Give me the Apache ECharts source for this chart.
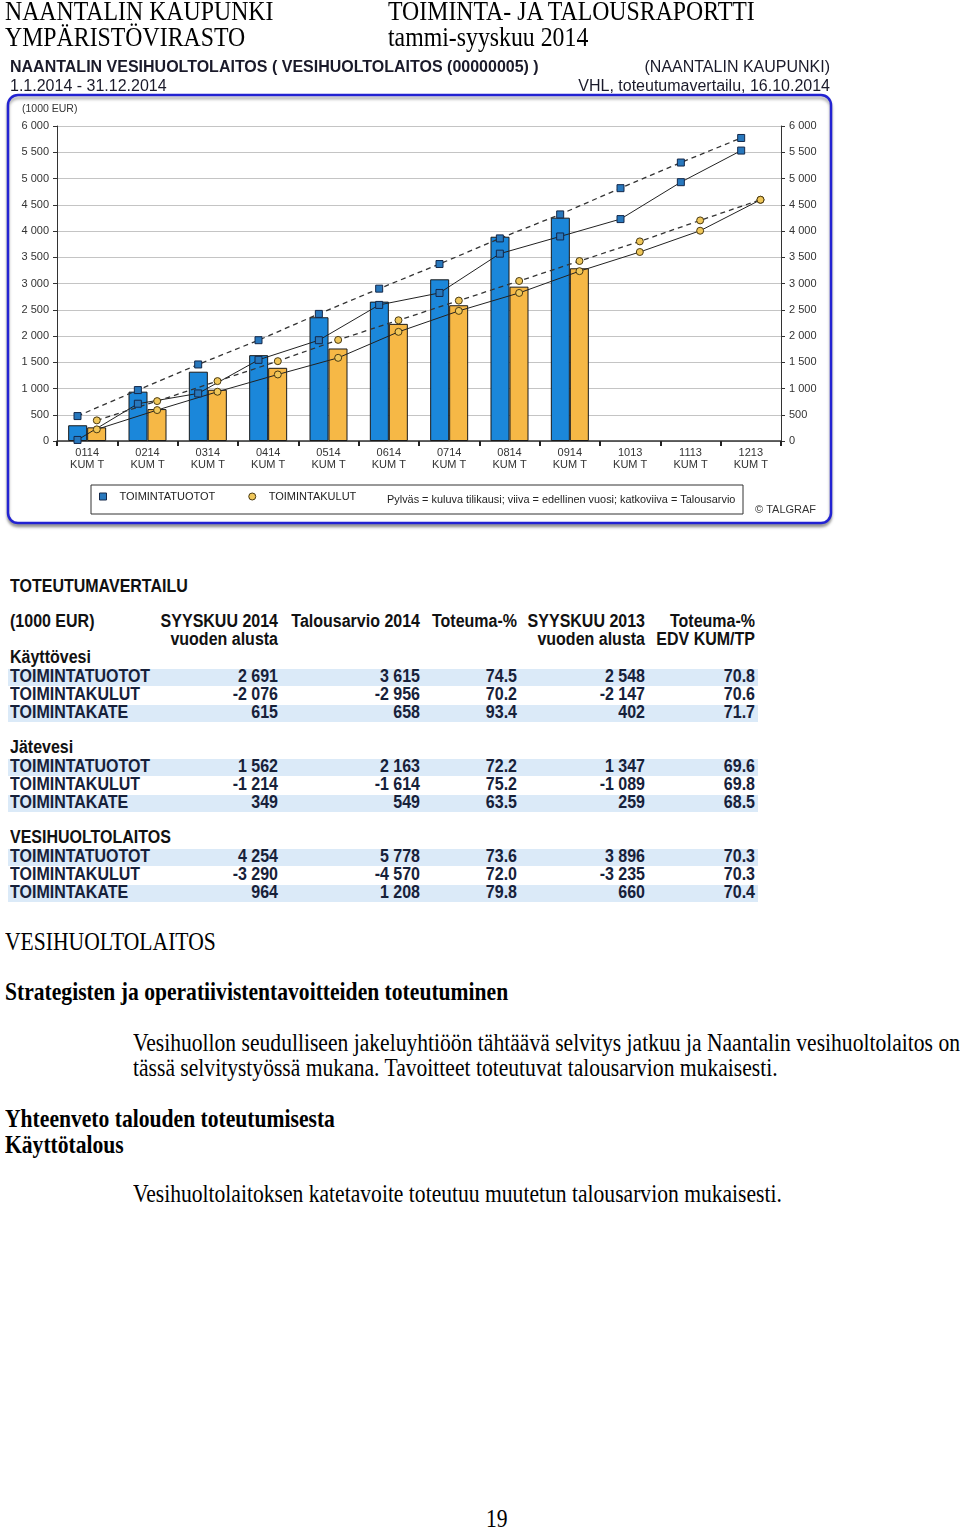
<!DOCTYPE html>
<html><head><meta charset="utf-8">
<script src="https://cdn.jsdelivr.net/npm/echarts@6/dist/echarts.min.js"></script>
<style>
html,body{margin:0;padding:0;background:#fff;}
#page{position:relative;width:960px;height:1527px;overflow:hidden;background:#fff;}
.t{position:absolute;white-space:nowrap;font-family:'Liberation Serif','Times New Roman',serif;color:#000;line-height:1;transform:scaleY(1.12);transform-origin:0 50%;}
.b{font-weight:bold;}
#chart{position:absolute;left:0;top:0;width:960px;height:540px;}
.tb{position:absolute;white-space:nowrap;font-family:'Liberation Sans',Arial,sans-serif;font-weight:bold;font-size:16px;line-height:18px;height:18px;color:#17213a;transform:scaleY(1.1);transform-origin:0 50%;}
.band{position:absolute;left:8px;width:750px;height:17px;background:#dbeaf8;}
</style></head>
<body><div id="page"><div id="chart"></div></div>
<script>
// ---------- chart data ----------
const categories = ['0114','0214','0314','0414','0514','0614','0714','0814','0914','1013','1113','1213'];
const tuotot2014 = [300, 940, 1320, 1635, 2357, 2655, 3080, 3891, 4254];
const kulut2014 = [260, 608, 976, 1394, 1762, 2231, 2586, 2940, 3290];
const tuotot2013 = [20, 710, 906, 1546, 1920, 2592, 2820, 3568, 3896, 4227, 4930, 5532];
const kulut2013 = [222, 589, 938, 1267, 1584, 2079, 2478, 2820, 3235, 3600, 4005, 4594];
const tuototBudget = [475, 970, 1458, 1920, 2421, 2902, 3371, 3859, 4316, 4816, 5304, 5772];
const kulutBudget = [393, 760, 1141, 1521, 1926, 2300, 2674, 3048, 3428, 3802, 4202, 4595];
const yTicks = {min: 0, max: 6000, interval: 500};

// ---------- table data ----------
const tableTitle = 'TOTEUTUMAVERTAILU';
const unitLabel = '(1000 EUR)';
const colHeads1 = ['SYYSKUU 2014','Talousarvio 2014','Toteuma-%','SYYSKUU 2013','Toteuma-%'];
const colHeads2 = ['vuoden alusta','','','vuoden alusta','EDV KUM/TP'];
const sections = ['Käyttövesi','Jätevesi','VESIHUOLTOLAITOS'];
const rowLabels = ['TOIMINTATUOTOT','TOIMINTAKULUT','TOIMINTAKATE'];
const kayttovesiVals = [['2 691','3 615','74.5','2 548','70.8'],['-2 076','-2 956','70.2','-2 147','70.6'],['615','658','93.4','402','71.7']];
const jatevesiVals = [['1 562','2 163','72.2','1 347','69.6'],['-1 214','-1 614','75.2','-1 089','69.8'],['349','549','63.5','259','68.5']];
const vesihuoltoVals = [['4 254','5 778','73.6','3 896','70.3'],['-3 290','-4 570','72.0','-3 235','70.3'],['964','1 208','79.8','660','70.4']];

// ---------- page texts ----------
const pageTexts = [
  {s:'NAANTALIN KAUPUNKI', x:5, y:11.5, fs:23.8},
  {s:'YMPÄRISTÖVIRASTO', x:5, y:37.5, fs:23.8},
  {s:'TOIMINTA- JA TALOUSRAPORTTI', x:388, y:11.5, fs:23.8},
  {s:'tammi-syyskuu 2014', x:388, y:37.5, fs:23.8},
  {s:'VESIHUOLTOLAITOS', x:5, y:942.5, fs:21.6},
  {s:'Strategisten ja operatiivistentavoitteiden toteutuminen', x:5, y:992.5, fs:21.6, b:1},
  {s:'Vesihuollon seudulliseen jakeluyhtiöön tähtäävä selvitys jatkuu ja Naantalin vesihuoltolaitos on', x:133, y:1043.5, fs:21.6},
  {s:'tässä selvitystyössä mukana. Tavoitteet toteutuvat talousarvion mukaisesti.', x:133, y:1068.5, fs:21.6},
  {s:'Yhteenveto talouden toteutumisesta', x:5, y:1119.5, fs:21.6, b:1},
  {s:'Käyttötalous', x:5, y:1145.5, fs:21.6, b:1},
  {s:'Vesihuoltolaitoksen katetavoite toteutuu muutetun talousarvion mukaisesti.', x:133, y:1194.5, fs:21.6},
  {s:'19', x:486, y:1519.5, fs:21.6}
];

const page = document.getElementById('page');
pageTexts.forEach(p => {
  const d = document.createElement('div');
  d.className = 't' + (p.b ? ' b' : '');
  d.textContent = p.s;
  d.style.left = p.x + 'px';
  d.style.top = (p.y - p.fs/2) + 'px';
  d.style.fontSize = p.fs + 'px';
  page.appendChild(d);
});

// ---------- table ----------
const colRight = [278, 420, 517, 645, 755];
function tText(s, x, yc, alignRight, extra) {
  const d = document.createElement('div');
  d.className = 'tb';
  d.textContent = s;
  d.style.top = (yc - 9) + 'px';
  if (alignRight) { d.style.right = (960 - x) + 'px'; d.style.transformOrigin = '100% 50%'; }
  else d.style.left = x + 'px';
  if (extra) Object.assign(d.style, extra);
  page.appendChild(d);
}
function band(yc) {
  const d = document.createElement('div');
  d.className = 'band';
  d.style.top = (yc - 8.5) + 'px';
  page.appendChild(d);
}
tText(tableTitle, 10, 587, false, {color:'#111'});
tText(unitLabel, 10, 622, false, {color:'#111'});
colHeads1.forEach((h,i) => tText(h, colRight[i], 622, true, {color:'#111'}));
colHeads2.forEach((h,i) => { if (h) tText(h, colRight[i], 640, true, {color:'#111'}); });
const sectionVals = [kayttovesiVals, jatevesiVals, vesihuoltoVals];
sections.forEach((sec, s) => {
  const y0 = 658 + s*90;
  const rowsY = [y0+19, y0+37, y0+55];
  band(rowsY[0]); band(rowsY[2]);
  tText(sec, 10, y0, false, {color:'#111'});
  rowLabels.forEach((lab, r) => {
    tText(lab, 10, rowsY[r], false);
    sectionVals[s][r].forEach((v, c) => tText(v, colRight[c], rowsY[r], true));
  });
});

// ---------- chart ----------
const fmt = v => String(v).replace(/\B(?=(\d{3})+(?!\d))/g, ' ');
const off = 0.16;
const FONT = 'Liberation Sans, Arial, sans-serif';
const blueFill = '#1b87da', orangeFill = '#f6b846';
const sqStyle = {color:'#2878bd', borderColor:'#14284a', borderWidth:1};
const ciStyle = {color:'#f0c75a', borderColor:'#4a3a12', borderWidth:1};

const chart = echarts.init(document.getElementById('chart'), null, {renderer:'canvas'});
chart.setOption({
  animation: false,
  textStyle: {fontFamily: FONT},
  grid: {left: 57, right: 179, top: 126, bottom: 99, containLabel: false},
  xAxis: [
    {type:'category', data: categories, boundaryGap: true,
     axisLine: {lineStyle: {color:'#333', width: 1.5}},
     axisTick: {show: true, length: 5, lineStyle: {color:'#222', width: 2}},
     axisLabel: {fontSize: 11, color:'#333', margin: 6, lineHeight: 12, formatter: v => v + '\nKUM T'},
     splitLine: {show: false}},
    {type:'value', min: -0.5, max: categories.length - 0.5, show: false}
  ],
  yAxis: [
    {type:'value', position:'left', min: yTicks.min, max: yTicks.max, interval: yTicks.interval,
     axisLine: {show: true, onZero: false, lineStyle: {color:'#333', width: 1}},
     axisTick: {show: true, length: 4, lineStyle: {color:'#333'}},
     axisLabel: {fontSize: 11, color:'#333', margin: 8, formatter: fmt},
     splitLine: {show: true, lineStyle: {color:'#c4c4c4', width: 1.2}}},
    {type:'value', position:'right', min: yTicks.min, max: yTicks.max, interval: yTicks.interval,
     axisLine: {show: true, onZero: false, lineStyle: {color:'#333', width: 1}},
     axisTick: {show: true, length: 4, lineStyle: {color:'#333'}},
     axisLabel: {fontSize: 11, color:'#333', margin: 8, formatter: fmt},
     splitLine: {show: false}}
  ],
  legend: {
    left: 99, top: 491, itemWidth: 7, itemHeight: 7, itemGap: 33, padding: 0,
    textStyle: {fontSize: 11, color:'#222', padding: [0,0,0,8]},
    data: [
      {name:'TOIMINTATUOTOT', icon:'rect', itemStyle: sqStyle},
      {name:'TOIMINTAKULUT', icon:'circle', itemStyle: ciStyle}
    ],
    selectedMode: false
  },
  graphic: [
    {type:'rect', z:-100, silent:true, shape:{x:8, y:95, width:823, height:428, r:10},
     style:{fill:'#fff', stroke:'#2323d2', lineWidth:2.5, shadowBlur:3, shadowOffsetY:3, shadowColor:'rgba(0,0,0,0.35)'}},
    {type:'rect', z:-50, silent:true, shape:{x:91, y:485, width:652, height:29},
     style:{fill:'#fff', stroke:'#333', lineWidth:1}},
    {type:'text', silent:true, x:10, y:68, style:{text:'NAANTALIN VESIHUOLTOLAITOS ( VESIHUOLTOLAITOS (00000005) )', font:'bold 16px ' + FONT, fill:'#1a1a2a', verticalAlign:'middle'}},
    {type:'text', silent:true, x:830, y:68, style:{text:'(NAANTALIN KAUPUNKI)', font:'16px ' + FONT, fill:'#1a1a2a', align:'right', verticalAlign:'middle'}},
    {type:'text', silent:true, x:10, y:87, style:{text:'1.1.2014 - 31.12.2014', font:'16px ' + FONT, fill:'#1a1a2a', verticalAlign:'middle'}},
    {type:'text', silent:true, x:830, y:87, style:{text:'VHL, toteutumavertailu, 16.10.2014', font:'16px ' + FONT, fill:'#1a1a2a', align:'right', verticalAlign:'middle'}},
    {type:'text', silent:true, x:22, y:109, style:{text:'(1000 EUR)', font:'10.5px ' + FONT, fill:'#333', verticalAlign:'middle'}},
    {type:'text', silent:true, x:387, y:500, style:{text:'Pylväs = kuluva tilikausi; viiva = edellinen vuosi; katkoviiva = Talousarvio', font:'10.9px ' + FONT, fill:'#222', verticalAlign:'middle'}},
    {type:'text', silent:true, x:755, y:510, style:{text:'© TALGRAF', font:'11px ' + FONT, fill:'#333', verticalAlign:'middle'}}
  ],
  series: [
    {name:'TOIMINTATUOTOT', type:'bar', data: tuotot2014, barWidth: 19, barGap: '0%', z: 2,
     itemStyle: {color: blueFill, borderColor:'#1a1a1a', borderWidth: 1}},
    {name:'TOIMINTAKULUT', type:'bar', data: kulut2014, barWidth: 19, barGap: '0%', z: 2,
     itemStyle: {color: orangeFill, borderColor:'#1a1a1a', borderWidth: 1}},
    {name:'TOIMINTATUOTOT', type:'line', xAxisIndex: 1, data: tuotot2013.map((v,i) => [i - off, v]),
     symbol:'rect', symbolSize: 7, z: 5, lineStyle: {color:'#222', width: 1}, itemStyle: sqStyle},
    {name:'TOIMINTAKULUT', type:'line', xAxisIndex: 1, data: kulut2013.map((v,i) => [i + off, v]),
     symbol:'circle', symbolSize: 7, z: 5, lineStyle: {color:'#222', width: 1}, itemStyle: ciStyle},
    {name:'TOIMINTATUOTOT', type:'line', xAxisIndex: 1, data: tuototBudget.map((v,i) => [i - off, v]),
     symbol:'rect', symbolSize: 7, z: 5, lineStyle: {color:'#333', width: 1.3, type: [5,4]}, itemStyle: sqStyle},
    {name:'TOIMINTAKULUT', type:'line', xAxisIndex: 1, data: kulutBudget.map((v,i) => [i + off, v]),
     symbol:'circle', symbolSize: 7, z: 5, lineStyle: {color:'#333', width: 1.3, type: [5,4]}, itemStyle: ciStyle}
  ]
});
</script>
</body></html>
